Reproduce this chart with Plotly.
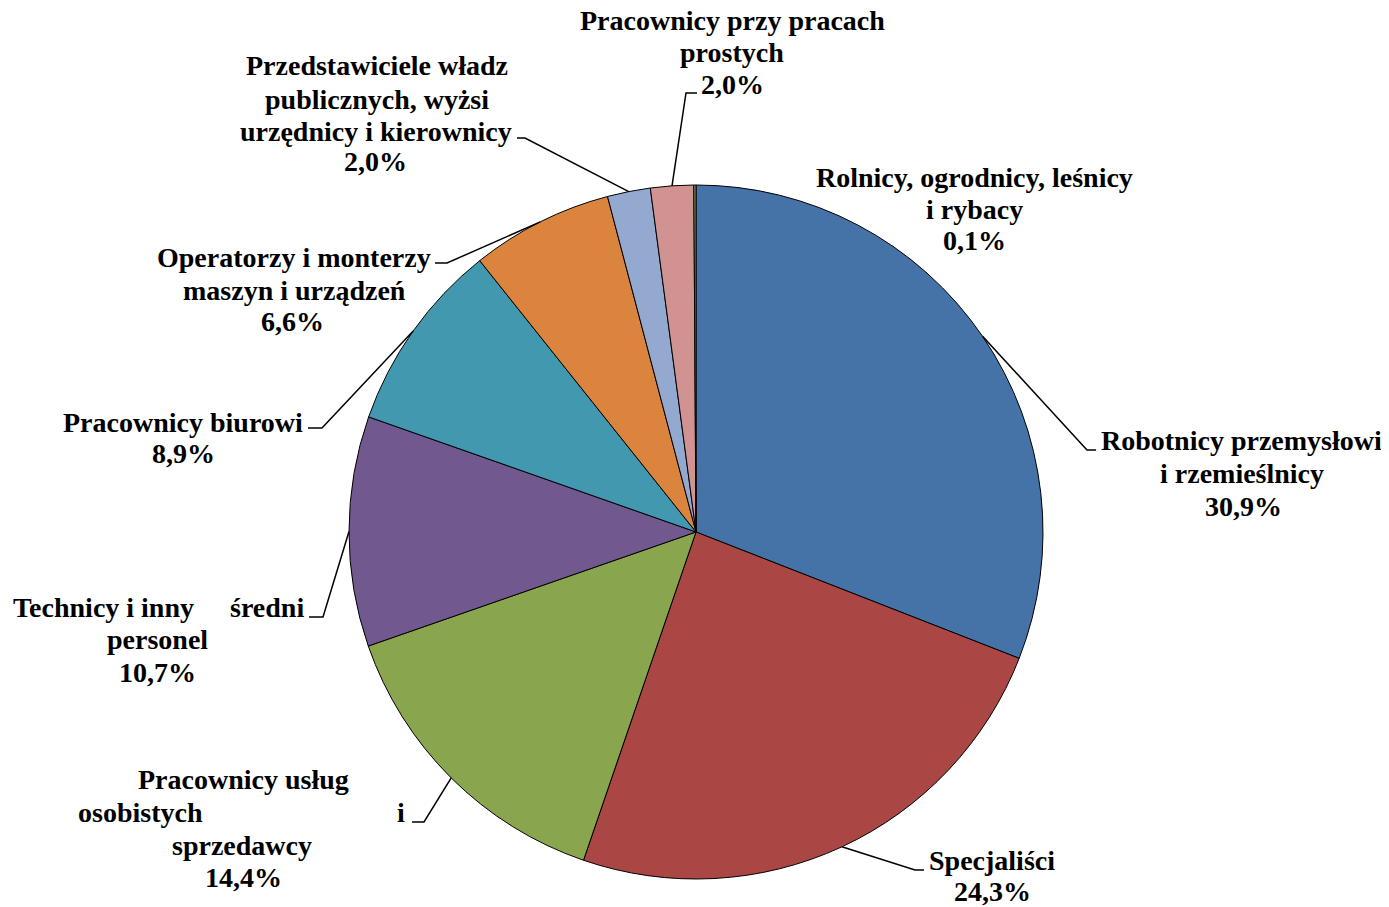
import math
import plotly.graph_objects as go

categories = [
  "Robotnicy przemysłowi i rzemieślnicy",
  "Specjaliści",
  "Pracownicy usług osobistych i sprzedawcy",
  "Technicy i inny średni personel",
  "Pracownicy biurowi",
  "Operatorzy i monterzy maszyn i urządzeń",
  "Przedstawiciele władz publicznych, wyżsi urzędnicy i kierownicy",
  "Pracownicy przy pracach prostych",
  "Rolnicy, ogrodnicy, leśnicy i rybacy",
]
values = [30.9, 24.3, 14.4, 10.7, 8.9, 6.6, 2.0, 2.0, 0.1]
colors = ["#4572A7", "#AA4643", "#89A54E", "#71588F", "#4198AF",
          "#DB843D", "#93A9CF", "#D19392", "#8A9B6A"]

# the page body has an 8px margin, so the figure is drawn 8px smaller and
# all window-pixel positions below are shifted back by OFF
OFF = 8
W, H = 1389 - OFF, 907 - OFF
CX, CY, R = 696, 532, 347  # pie centre / radius in window px
FONT = dict(family="Liberation Serif, Times New Roman, serif", size=28, color="black", weight="bold")

# label text pieces: (text, centre x px, centre y px); percentage line comes from values
name_lines = [
  [("Robotnicy przemysłowi", 1241, 442), ("i rzemieślnicy", 1242, 474)],
  [("Specjaliści", 992, 861)],
  [("Pracownicy usług", 243, 780), ("osobistych", 140, 813), ("i", 401, 813), ("sprzedawcy", 242, 846)],
  [("Technicy i inny", 103, 608), ("średni", 267, 608), ("personel", 157, 640)],
  [("Pracownicy biurowi", 183, 423)],
  [("Operatorzy i monterzy", 294, 258), ("maszyn i urządzeń", 294, 291)],
  [("Przedstawiciele władz", 377, 67), ("publicznych, wyżsi", 377, 100), ("urzędnicy i kierownicy", 376, 132)],
  [("Pracownicy przy pracach", 732, 22), ("prostych", 732, 54)],
  [("Rolnicy, ogrodnicy, leśnicy", 975, 178), ("i rybacy", 975, 210)],
]
pct_pos = [(1243, 507), (992, 892), (243, 878), (157, 673), (183, 454),
           (292, 322), (375, 163), (732, 85), (975, 241)]
# leader elbow (x, y) and end x of the short horizontal tick
leaders = [(1087, 450, 1096), (915, 870, 924), (424, 822, 412), (323, 617, 309),
           (322, 428, 308), (447, 263, 435), (525, 138, 517), (686, 93, 697), None]


def px(x, y, dy=0):
  return (x - OFF) / W, 1 - (y - OFF - dy) / H


fig = go.Figure(go.Pie(
  labels=categories,
  values=values,
  sort=False,
  direction="clockwise",
  rotation=0,
  marker=dict(colors=colors, line=dict(color="black", width=1)),
  textinfo="none",
  hoverinfo="label+percent",
  domain=dict(x=[(CX - R - OFF) / W, (CX + R - OFF) / W],
              y=[1 - (CY + R - OFF) / H, 1 - (CY - R - OFF) / H]),
))

annotations = []
shapes = []
total = sum(values)
cum = 0
for i, v in enumerate(values):
  mid = (cum + v / 2) / total * 2 * math.pi
  cum += v
  lines = name_lines[i] + [(f"{v:.1f}%".replace(".", ","), *pct_pos[i])]
  for text, x, y in lines:
    ax, ay = px(x, y, dy=1)
    annotations.append(dict(text=text, x=ax, y=ay, xref="paper", yref="paper",
                            xanchor="center", yanchor="middle", showarrow=False, font=FONT))
  if leaders[i] is None:
    continue
  ex, ey, tx = leaders[i]
  sx, sy = CX + R * math.sin(mid), CY - R * math.cos(mid)
  pts = [px(sx, sy), px(ex, ey), px(tx, ey)]
  path = "M " + " L ".join(f"{a:.5f},{b:.5f}" for a, b in pts)
  shapes.append(dict(type="path", path=path, xref="paper", yref="paper",
                     line=dict(color="black", width=1.5)))

fig.update_layout(
  width=W, height=H,
  margin=dict(l=0, r=0, t=0, b=0),
  paper_bgcolor="white",
  plot_bgcolor="white",
  showlegend=False,
  annotations=annotations,
  shapes=shapes,
)

fig.write_html("out.html")
